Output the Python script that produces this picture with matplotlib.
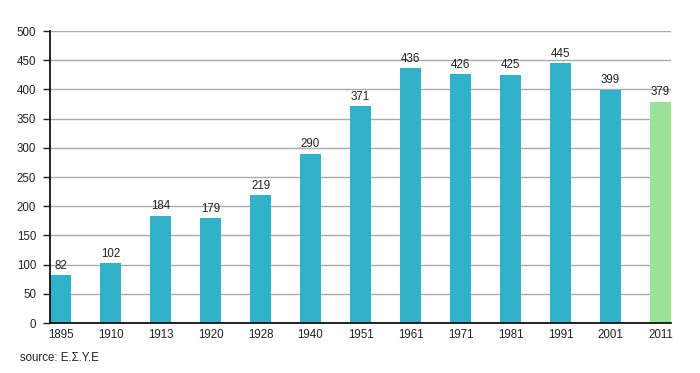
import matplotlib
matplotlib.use("Agg")
import matplotlib.pyplot as plt

years = ["1895", "1910", "1913", "1920", "1928", "1940", "1951", "1961", "1971", "1981", "1991", "2001", "2011"]
values = [82, 102, 184, 179, 219, 290, 371, 436, 426, 425, 445, 399, 379]
colors = ["#31b2cb"] * 12 + ["#9ce39a"]

plt.rcParams['font.family'] = ['Liberation Sans', 'DejaVu Sans']
fig = plt.figure(figsize=(7.0, 3.73), dpi=100)
ax = fig.add_axes([50/700, 1-323/373, 621/700, 292/373])
bw = 0.42
x = list(range(len(years)))
ax.bar(x, values, width=bw, color=colors, zorder=2)
for xi, v in zip(x, values):
    ax.text(xi, v + 6, str(v), ha='center', va='bottom', fontsize=8.3, color='#222222', zorder=3)
ax.set_xlim(-bw/2, len(years) - 1 + bw/2)
ax.set_ylim(0, 500)
ax.set_yticks(range(0, 501, 50))
ax.set_xticks(x)
ax.set_xticklabels(years)
ax.yaxis.grid(True, color='#aaaaaa', linewidth=1, zorder=0)
for s in ['top', 'right']:
    ax.spines[s].set_visible(False)
ax.spines['left'].set_linewidth(1.2)
ax.spines['bottom'].set_linewidth(1.2)
ax.tick_params(axis='y', length=5, width=1, labelsize=8.3, colors='#222222', pad=5)
ax.tick_params(axis='x', length=0, labelsize=8.3, colors='#222222', pad=4)
fig.text(20/700, 1-358/373, "source: Ε.Σ.Υ.Ε", fontsize=8.3, color='#222222', va='center')
fig.savefig("out.png", dpi=100)
